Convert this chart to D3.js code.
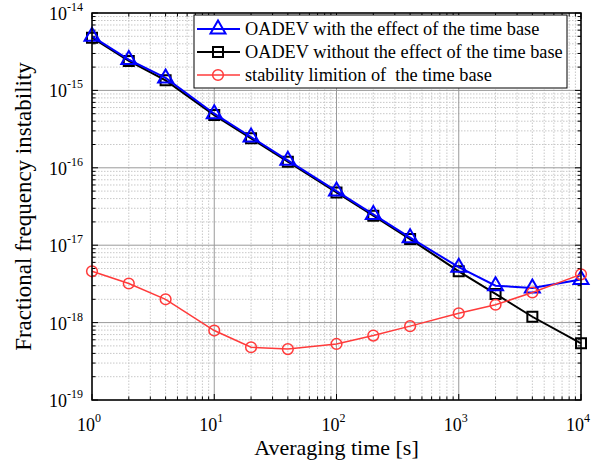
<!DOCTYPE html>
<html>
<head>
<meta charset="utf-8">
<script src="https://cdn.jsdelivr.net/npm/d3@7"></script>
<style>
  body { margin: 0; background: #fff; }
  svg { display: block; font-family: "Liberation Serif", "Times New Roman", serif; }
  text { white-space: pre; }
</style>
</head>
<body>
<div id="chart"></div>
<script>
// averaging times [s]
const tau = [1, 2, 4, 10, 20, 40, 100, 200, 400, 1000, 2000, 4000, 10000];
// OADEV with the effect of the time base
const withBase = [5.0e-15, 2.5e-15, 1.45e-15, 5.0e-16, 2.5e-16, 1.25e-16, 5.0e-17, 2.5e-17, 1.25e-17, 5.2e-18, 3.0e-18, 2.8e-18, 3.6e-18];
// OADEV without the effect of the time base
const withoutBase = [4.8e-15, 2.4e-15, 1.35e-15, 4.8e-16, 2.4e-16, 1.2e-16, 4.8e-17, 2.4e-17, 1.2e-17, 4.6e-18, 2.35e-18, 1.19e-18, 5.4e-19];
// stability limitation of the time base
const baseLimit = [4.6e-18, 3.2e-18, 2.0e-18, 7.9e-19, 4.8e-19, 4.55e-19, 5.3e-19, 6.8e-19, 9.0e-19, 1.32e-18, 1.7e-18, 2.45e-18, 4.2e-18];

const xTickExp = [0, 1, 2, 3, 4];
const yTickExp = [-14, -15, -16, -17, -18, -19];
const legendLabels = [
    "OADEV with the effect of the time base",
    "OADEV without the effect of the time base",
    "stability limition of  the time base"
];

const width = 596, height = 466;
const margin = { top: 13, right: 15, bottom: 66, left: 92 };

const svg = d3.select("#chart")
    .append("svg")
    .attr("width", width)
    .attr("height", height)
    .attr("viewBox", [0, 0, width, height]);

const xScale = d3.scaleLog()
    .domain([1, 1e4])
    .range([margin.left, width - margin.right]);

const yScale = d3.scaleLog()
    .domain([1e-19, 1e-14])
    .range([height - margin.bottom, margin.top]);

const x0 = margin.left, x1 = width - margin.right;
const y0 = height - margin.bottom, y1 = margin.top;

// minor values per decade
const minorX = [], minorY = [];
for (let e = 0; e < 4; e++) for (let m = 2; m <= 9; m++) minorX.push(m * Math.pow(10, e));
for (let e = -19; e < -14; e++) for (let m = 2; m <= 9; m++) minorY.push(m * Math.pow(10, e));
const majorX = xTickExp.map(e => Math.pow(10, e));
const majorY = yTickExp.map(e => Math.pow(10, e));

// grid
const grid = svg.append("g");
grid.selectAll(".gxm").data(minorX).join("line")
    .attr("x1", d => xScale(d)).attr("x2", d => xScale(d))
    .attr("y1", y0).attr("y2", y1)
    .attr("stroke", "#c8c8c8").attr("stroke-dasharray", "1.5,1.5").attr("stroke-width", 1);
grid.selectAll(".gym").data(minorY).join("line")
    .attr("y1", d => yScale(d)).attr("y2", d => yScale(d))
    .attr("x1", x0).attr("x2", x1)
    .attr("stroke", "#c8c8c8").attr("stroke-dasharray", "1.5,1.5").attr("stroke-width", 1);
grid.selectAll(".gxM").data(majorX).join("line")
    .attr("x1", d => xScale(d)).attr("x2", d => xScale(d))
    .attr("y1", y0).attr("y2", y1)
    .attr("stroke", "#9a9a9a").attr("stroke-width", 1);
grid.selectAll(".gyM").data(majorY).join("line")
    .attr("y1", d => yScale(d)).attr("y2", d => yScale(d))
    .attr("x1", x0).attr("x2", x1)
    .attr("stroke", "#9a9a9a").attr("stroke-width", 1);

// inward ticks on all four sides
const ticks = svg.append("g").attr("stroke", "#000").attr("stroke-width", 1);
const allX = majorX.map(v => [v, 6]).concat(minorX.map(v => [v, 3.5]));
const allY = majorY.map(v => [v, 6]).concat(minorY.map(v => [v, 3.5]));
ticks.selectAll(".tb").data(allX).join("line")
    .attr("x1", d => xScale(d[0])).attr("x2", d => xScale(d[0]))
    .attr("y1", y0).attr("y2", d => y0 - d[1]);
ticks.selectAll(".tt").data(allX).join("line")
    .attr("x1", d => xScale(d[0])).attr("x2", d => xScale(d[0]))
    .attr("y1", y1).attr("y2", d => y1 + d[1]);
ticks.selectAll(".tl").data(allY).join("line")
    .attr("y1", d => yScale(d[0])).attr("y2", d => yScale(d[0]))
    .attr("x1", x0).attr("x2", d => x0 + d[1]);
ticks.selectAll(".tr").data(allY).join("line")
    .attr("y1", d => yScale(d[0])).attr("y2", d => yScale(d[0]))
    .attr("x1", x1).attr("x2", d => x1 - d[1]);

// tick labels
const xLabels = svg.append("g").attr("font-size", 18).attr("fill", "#000");
xTickExp.forEach(e => {
    const t = xLabels.append("text")
        .attr("x", xScale(Math.pow(10, e)) - 3)
        .attr("y", 431)
        .attr("text-anchor", "middle");
    t.append("tspan").text("10");
    t.append("tspan").attr("font-size", 12).attr("dy", -9).text(e);
});
const yLabels = svg.append("g").attr("font-size", 18).attr("fill", "#000");
yTickExp.forEach(e => {
    const t = yLabels.append("text")
        .attr("x", x0 - 9)
        .attr("y", yScale(Math.pow(10, e)) + 7)
        .attr("text-anchor", "end");
    t.append("tspan").text("10");
    t.append("tspan").attr("font-size", 12).attr("dy", -9).text(e);
});

// axis titles
svg.append("text")
    .attr("x", (x0 + x1) / 2)
    .attr("y", 455)
    .attr("text-anchor", "middle")
    .attr("font-size", 22)
    .text("Averaging time [s]");
svg.append("text")
    .attr("transform", `translate(31,${(y0 + y1) / 2}) rotate(-90)`)
    .attr("text-anchor", "middle")
    .attr("font-size", 23)
    .text("Fractional frequency instability");

// series
const series = [
    { values: withoutBase, color: "#000000", marker: "square", width: 2 },
    { values: withBase, color: "#0000ff", marker: "triangle", width: 2 },
    { values: baseLimit, color: "#ff3b3b", marker: "circle", width: 1.5 }
];
const line = d3.line()
    .x(d => xScale(d[0]))
    .y(d => yScale(d[1]));

const markerPath = (type) => {
    if (type === "square") return "M-5,-5H5V5H-5Z";
    if (type === "triangle") return "M0,-8.5L7.5,4.5L-7.5,4.5Z";
    return d3.symbol(d3.symbolCircle, 90)();
};

const plot = svg.append("g");
series.forEach(s => {
    const pts = tau.map((t, i) => [t, s.values[i]]);
    plot.append("path")
        .datum(pts)
        .attr("fill", "none")
        .attr("stroke", s.color)
        .attr("stroke-width", s.width)
        .attr("d", line);
    plot.selectAll(null)
        .data(pts)
        .join("path")
        .attr("transform", d => `translate(${xScale(d[0])},${yScale(d[1])})`)
        .attr("d", markerPath(s.marker))
        .attr("fill", "none")
        .attr("stroke", s.color)
        .attr("stroke-width", s.width);
});

// axes box
svg.append("rect")
    .attr("x", x0).attr("y", y1)
    .attr("width", x1 - x0).attr("height", y0 - y1)
    .attr("fill", "none")
    .attr("stroke", "#000")
    .attr("stroke-width", 1.5);

// legend
const legendOrder = [series[1], series[0], series[2]];
const lg = svg.append("g");
lg.append("rect")
    .attr("x", 194).attr("y", 15)
    .attr("width", 373).attr("height", 73)
    .attr("fill", "#fff")
    .attr("stroke", "#000")
    .attr("stroke-width", 1);
legendOrder.forEach((s, i) => {
    const cy = 29 + i * 23;
    lg.append("line")
        .attr("x1", 197).attr("x2", 240)
        .attr("y1", cy).attr("y2", cy)
        .attr("stroke", s.color)
        .attr("stroke-width", s.width);
    lg.append("path")
        .attr("transform", `translate(218,${cy})`)
        .attr("d", markerPath(s.marker))
        .attr("fill", "none")
        .attr("stroke", s.color)
        .attr("stroke-width", s.width);
    lg.append("text")
        .attr("x", 245)
        .attr("y", cy + 6)
        .attr("font-size", 18.3)
        .attr("fill", "#000")
        .text(legendLabels[i]);
});
</script>
</body>
</html>
